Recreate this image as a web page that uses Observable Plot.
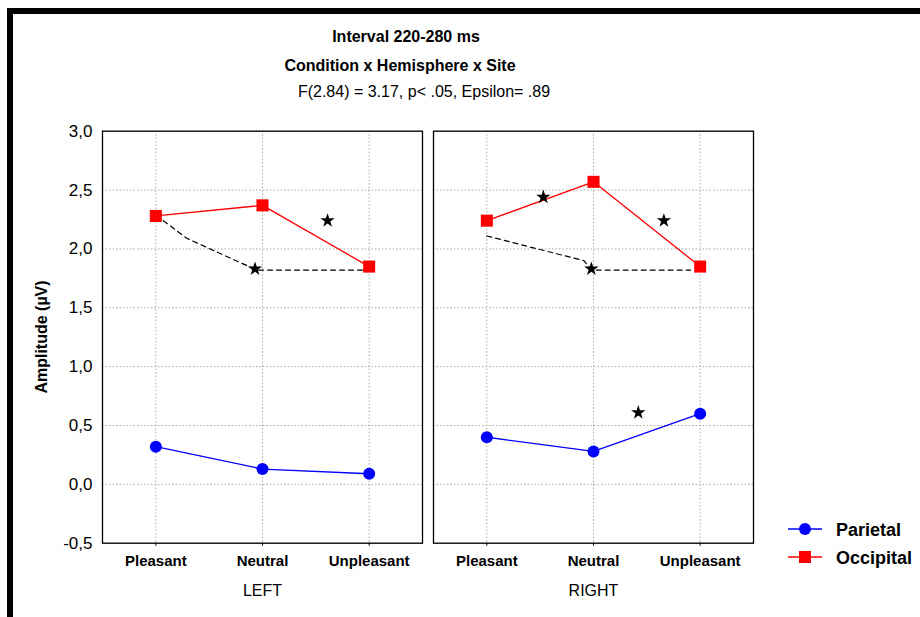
<!DOCTYPE html>
<html>
<head>
<meta charset="utf-8">
<script src="https://cdn.jsdelivr.net/npm/d3@7"></script>
<script src="https://cdn.jsdelivr.net/npm/@observablehq/plot@0.6"></script>
<style>
  html, body { margin: 0; padding: 0; background: #fff; }
  body { font-family: "Liberation Sans", Arial, sans-serif; color: #000; }
  #fig { position: relative; width: 920px; height: 617px; overflow: hidden; background: #fff; }
  .bar { position: absolute; background: #000; }
  .title { position: absolute; font-size: 16px; line-height: 16px; white-space: nowrap; transform: translateX(-50%); }
  #chart { position: absolute; left: 13px; top: 110px; }
  #ylabel { position: absolute; left: 42px; top: 337px; font-size: 16px; line-height: 16px; font-weight: bold;
            white-space: nowrap; transform: translate(-50%, -50%) rotate(-90deg); }
  .legend-swatch { position: absolute; }
  .legend-text { position: absolute; font-size: 18px; line-height: 18px; font-weight: bold; white-space: nowrap; }
</style>
</head>
<body>
<div id="fig">
  <div class="bar" style="left:7px;top:8px;width:913px;height:6px"></div>
  <div class="bar" style="left:7px;top:8px;width:6px;height:609px"></div>
  <div class="title" id="t1" style="left:406px;top:29px;font-weight:bold"></div>
  <div class="title" id="t2" style="left:400px;top:58px;font-weight:bold"></div>
  <div class="title" id="t3" style="left:424px;top:84px"></div>
  <div id="ylabel"></div>
  <div id="chart"></div>
  <div id="legend"></div>
</div>
<script>
// Headings
const titleLines = ["Interval 220-280 ms", "Condition x Hemisphere x Site", "F(2.84) = 3.17, p< .05, Epsilon= .89"];
const yAxisTitle = "Amplitude (µV)";

// Categories
const conditions = ["Pleasant", "Neutral", "Unpleasant"];
const conditionIndex = [0, 1, 2];
const hemispheres = ["LEFT", "RIGHT"];
const sites = ["Parietal", "Occipital"];
const siteColors = ["#0000ff", "#ff0000"];
const siteSymbols = ["circle", "square"];

// Mean amplitudes (µV) per condition
const parietalLeft = [0.32, 0.13, 0.09];
const parietalRight = [0.40, 0.28, 0.60];
const occipitalLeft = [2.28, 2.37, 1.85];
const occipitalRight = [2.24, 2.57, 1.85];

// Y ticks
const yTicks = [-0.5, 0, 0.5, 1.0, 1.5, 2.0, 2.5, 3.0];

// Significance stars (x in condition units)
const starHemisphere = ["LEFT", "LEFT", "RIGHT", "RIGHT", "RIGHT", "RIGHT"];
const starPosition = [0.93, 1.61, 0.53, 0.98, 1.66, 1.42];
const starAmplitude = [1.83, 2.24, 2.44, 1.83, 2.24, 0.61];

// Dashed comparison brackets
const bracketLeftPosition = [0.07, 0.29, 0.80, 0.95, 1.98];
const bracketLeftAmplitude = [2.24, 2.09, 1.88, 1.82, 1.82];
const bracketRightPosition = [0.0, 0.91, 0.98, 1.91];
const bracketRightAmplitude = [2.11, 1.90, 1.82, 1.82];

// Build tidy rows
const seriesValues = {
  Parietal: [parietalLeft, parietalRight],
  Occipital: [occipitalLeft, occipitalRight]
};
const rows = [];
sites.forEach(site => {
  hemispheres.forEach((hemisphere, k) => {
    seriesValues[site][k].forEach((amplitude, i) => {
      rows.push({site, hemisphere, position: conditionIndex[i], amplitude});
    });
  });
});
const stars = starPosition.map((p, i) => ({hemisphere: starHemisphere[i], position: p, amplitude: starAmplitude[i]}));
const brackets = [
  ...bracketLeftPosition.map((p, i) => ({hemisphere: "LEFT", position: p, amplitude: bracketLeftAmplitude[i]})),
  ...bracketRightPosition.map((p, i) => ({hemisphere: "RIGHT", position: p, amplitude: bracketRightAmplitude[i]}))
];

document.getElementById("t1").textContent = titleLines[0];
document.getElementById("t2").textContent = titleLines[1];
document.getElementById("t3").textContent = titleLines[2];
document.getElementById("ylabel").textContent = yAxisTitle;

const decimalComma = d => d.toFixed(1).replace(".", ",");

const chart = Plot.plot({
  width: 767,
  height: 507,
  marginLeft: 89,
  marginRight: 27,
  marginTop: 20.7,
  marginBottom: 74.3,
  style: {fontFamily: "'Liberation Sans', Arial, sans-serif", fontSize: "15px", color: "#000", background: "transparent", overflow: "visible"},
  fx: {domain: hemispheres, paddingInner: 11 / 331, paddingOuter: 0},
  x: {domain: [-0.5, 2.5]},
  y: {domain: [-0.5, 3.0]},
  color: {domain: sites, range: siteColors},
  symbol: {domain: sites, range: siteSymbols},
  marks: [
    Plot.gridY({ticks: yTicks, stroke: "#a8a8a8", strokeOpacity: 1, strokeDasharray: "1.5,2"}),
    Plot.gridX({ticks: conditionIndex, stroke: "#a8a8a8", strokeOpacity: 1, strokeDasharray: "1.5,2"}),
    Plot.line(brackets, {x: "position", y: "amplitude", fx: "hemisphere", stroke: "#000", strokeWidth: 1.2, strokeDasharray: "5,4"}),
    Plot.line(rows, {x: "position", y: "amplitude", fx: "hemisphere", z: "site", stroke: "site", strokeWidth: 1.3}),
    Plot.dot(rows, {filter: d => d.site === "Parietal", x: "position", y: "amplitude", fx: "hemisphere", symbol: "site", fill: "site", r: 6}),
    Plot.dot(rows, {filter: d => d.site === "Occipital", x: "position", y: "amplitude", fx: "hemisphere", symbol: "site", fill: "site", r: 6.8}),
    Plot.dot(stars, {x: "position", y: "amplitude", fx: "hemisphere", symbol: "star", fill: "#000", r: 4.5}),
    Plot.frame({stroke: "#000", strokeWidth: 1.3}),
    Plot.axisX({ticks: conditionIndex, tickFormat: i => conditions[i], tickSize: 3, tickPadding: 9, fontWeight: "bold", fontSize: 15, label: null}),
    Plot.axisY({ticks: yTicks, tickFormat: decimalComma, tickSize: 0, tickPadding: 10, fontSize: 17, label: null}),
    Plot.axisFx({anchor: "bottom", tickSize: 0, tickPadding: 41, fontSize: 16, label: null})
  ]
});
document.getElementById("chart").appendChild(chart);

// Legend
const legend = document.getElementById("legend");
const legendRowY = [529, 557];
sites.forEach((site, k) => {
  const svg = d3.create("svg")
    .attr("class", "legend-swatch")
    .attr("width", 36).attr("height", 16)
    .style("left", "787px").style("top", (legendRowY[k] - 8) + "px");
  svg.append("line").attr("x1", 1).attr("x2", 35).attr("y1", 8).attr("y2", 8)
    .attr("stroke", siteColors[k]).attr("stroke-width", 1.3);
  svg.append("path")
    .attr("transform", "translate(18,8)")
    .attr("d", d3.symbol(siteSymbols[k] === "circle" ? d3.symbolCircle : d3.symbolSquare, Math.PI * (k === 0 ? 36 : 6.8 * 6.8))())
    .attr("fill", siteColors[k]);
  legend.appendChild(svg.node());
  const label = document.createElement("div");
  label.className = "legend-text";
  label.style.left = "836px";
  label.style.top = (legendRowY[k] - 8.5) + "px";
  label.textContent = site;
  legend.appendChild(label);
});
</script>
</body>
</html>
